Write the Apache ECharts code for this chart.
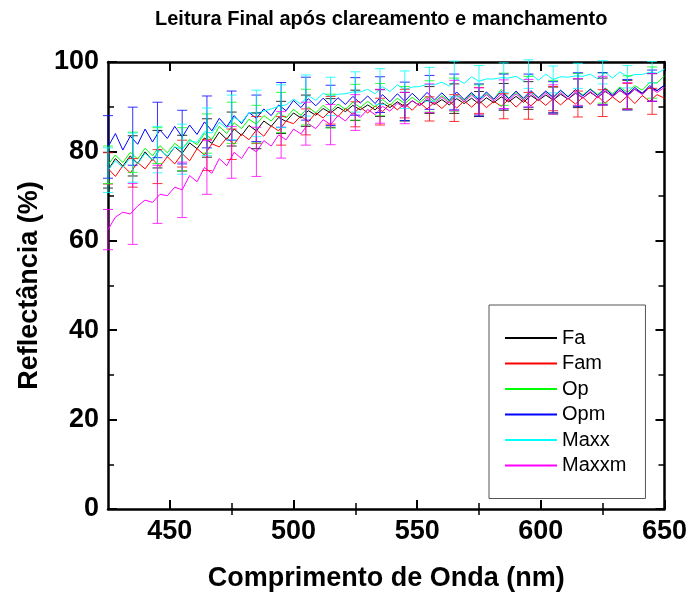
<!DOCTYPE html>
<html>
<head>
<meta charset="utf-8">
<title>Leitura Final após clareamento e manchamento</title>
<script src="https://cdn.jsdelivr.net/npm/echarts@6/dist/echarts.min.js"></script>
<style>
	html, body { margin: 0; padding: 0; background: #fff; }
	#main { width: 690px; height: 597px; }
</style>
</head>
<body>
<div id="main"></div>
<script>
var names = ['Fa', 'Fam', 'Op', 'Opm', 'Maxx', 'Maxxm'];
var colors = ['#000000', '#ff0000', '#00ff00', '#0000ff', '#00ffff', '#ff00ff'];

// espectros lidos a cada 3 nm, de 425 a 650 nm
var wlStart = 425, wlStep = 3;
var fa = [75.8, 78.4, 76.7, 79.0, 77.3, 79.9, 78.0, 80.5, 78.8, 81.0,
	79.6, 81.9, 80.6, 83.0, 81.8, 84.3, 82.7, 85.0, 83.6, 85.8,
	84.6, 86.8, 85.6, 87.6, 86.7, 88.6, 87.5, 89.1, 88.1, 89.6,
	88.6, 89.9, 88.9, 90.3, 89.3, 90.4, 89.3, 90.8, 89.8, 91.1,
	90.0, 91.3, 90.3, 91.5, 90.5, 91.6, 90.4, 91.8, 90.7, 91.9,
	90.6, 92.0, 90.9, 92.2, 91.1, 92.3, 91.0, 92.5, 91.4, 92.6,
	91.5, 92.8, 91.7, 93.0, 92.0, 93.2, 92.1, 93.4, 92.4, 93.6,
	92.6, 93.9, 93.0, 94.3, 93.6, 94.8];
var fam = [76.2, 74.4, 76.8, 75.2, 77.5, 76.1, 78.3, 76.6, 78.8, 77.2,
	79.5, 77.9, 80.6, 79.2, 81.7, 81.0, 83.0, 81.6, 83.9, 82.6,
	84.8, 83.4, 85.7, 84.6, 86.8, 86.2, 87.9, 86.6, 88.6, 87.5,
	89.2, 87.8, 89.6, 88.3, 89.9, 88.6, 90.2, 88.9, 90.6, 89.3,
	90.7, 89.2, 90.9, 89.5, 91.0, 89.6, 91.2, 89.7, 91.3, 89.9,
	91.4, 89.8, 91.2, 90.1, 91.6, 89.9, 91.5, 90.2, 91.7, 90.3,
	91.8, 90.4, 91.9, 90.6, 92.1, 90.5, 92.3, 90.8, 92.2, 90.9,
	92.4, 90.7, 92.5, 91.2, 92.7, 91.9];
var op = [77.0, 79.2, 77.5, 79.8, 78.3, 80.7, 79.0, 81.3, 79.7, 81.8,
	80.5, 82.7, 81.5, 84.0, 82.7, 85.6, 84.0, 86.4, 85.1, 87.2,
	86.1, 88.0, 86.8, 88.7, 87.5, 89.4, 88.1, 89.9, 88.6, 90.3,
	89.0, 90.6, 89.4, 91.0, 89.8, 91.2, 89.9, 91.6, 90.3, 91.9,
	90.7, 92.1, 90.9, 92.3, 91.1, 92.5, 91.2, 92.7, 91.4, 92.9,
	91.5, 93.0, 91.6, 93.9, 91.9, 93.2, 91.7, 93.3, 92.0, 93.4,
	92.1, 93.6, 92.3, 93.8, 92.6, 94.0, 92.7, 94.2, 92.9, 94.4,
	93.2, 94.7, 93.7, 95.4, 95.3, 96.9];
var opm = [81.0, 84.0, 80.3, 83.4, 81.6, 85.0, 82.1, 84.8, 82.9, 85.6,
	83.2, 85.9, 83.8, 86.6, 84.6, 87.4, 85.5, 88.0, 86.2, 88.7,
	87.4, 89.5, 88.0, 90.4, 89.1, 91.4, 89.8, 91.8, 90.2, 91.9,
	90.3, 92.0, 90.5, 92.3, 90.8, 92.4, 90.7, 92.7, 91.1, 92.9,
	91.2, 93.0, 91.4, 93.2, 91.5, 93.1, 91.4, 93.3, 91.6, 93.2,
	91.5, 93.3, 91.7, 93.4, 91.8, 93.5, 91.9, 93.6, 92.0, 93.5,
	92.1, 93.7, 92.2, 93.8, 92.4, 93.9, 92.5, 94.0, 92.6, 94.1,
	92.7, 94.3, 93.0, 94.7, 93.6, 94.8];
var maxx = [75.8, 77.9, 76.4, 78.6, 77.2, 79.6, 78.1, 80.4, 79.0, 81.0,
	80.5, 82.4, 82.0, 84.4, 84.1, 86.5, 85.2, 87.6, 86.5, 88.7,
	88.5, 89.0, 89.5, 90.1, 90.4, 91.7, 90.6, 92.5, 91.4, 93.0,
	92.3, 92.8, 92.9, 93.3, 93.3, 93.9, 92.9, 94.5, 93.4, 94.9,
	93.8, 94.4, 94.5, 95.0, 94.9, 95.5, 94.6, 96.2, 95.2, 96.7,
	95.7, 96.2, 96.2, 96.5, 96.4, 96.8, 95.8, 97.3, 95.9, 97.3,
	96.1, 96.7, 96.6, 96.9, 96.8, 97.3, 96.2, 97.7, 96.4, 97.8,
	96.7, 97.2, 97.2, 97.7, 97.5, 98.4];
var maxxm = [62.5, 65.3, 66.4, 66.0, 67.8, 69.1, 68.6, 70.4, 70.1, 72.0,
	71.4, 74.6, 73.2, 76.4, 75.1, 78.4, 76.8, 79.8, 78.4, 81.0,
	79.9, 82.4, 81.2, 83.7, 82.6, 85.0, 83.9, 86.2, 85.1, 87.1,
	86.0, 88.0, 86.8, 88.7, 87.6, 89.4, 88.2, 90.1, 89.0, 90.8,
	89.7, 91.4, 90.2, 91.9, 90.7, 92.2, 90.8, 92.5, 91.1, 92.6,
	91.2, 92.7, 91.3, 92.8, 91.4, 92.9, 91.4, 93.0, 91.5, 93.1,
	91.6, 93.2, 91.7, 93.3, 91.9, 93.4, 92.0, 93.6, 92.2, 93.7,
	92.4, 93.9, 92.7, 94.3, 93.2, 94.3];

// barras de erro (desvio) a cada 10 nm
var errWl = [425, 435, 445, 455, 465, 475, 485, 495, 505, 515, 525, 535, 545, 555, 565, 575, 585, 595, 605, 615, 625, 635, 645];
var errFa = [4.0, 4.5, 4.2, 4.0, 4.3, 3.8, 4.0, 3.6, 3.5, 3.2, 3.4, 3.0, 3.2, 3.0, 3.3, 2.8, 3.0, 3.1, 2.9, 3.2, 3.0, 3.3, 3.1];
var errFam = [3.5, 3.2, 3.8, 3.0, 3.5, 3.4, 3.0, 3.2, 2.9, 3.1, 2.8, 3.0, 3.2, 2.7, 3.0, 2.9, 2.8, 3.0, 2.7, 2.9, 3.0, 2.8, 2.9];
var errOp = [4.2, 4.5, 4.0, 4.8, 4.4, 4.6, 4.2, 4.5, 4.0, 3.8, 4.0, 3.6, 3.8, 3.5, 3.7, 3.4, 3.6, 3.5, 3.8, 3.6, 3.4, 3.7, 3.5];
var errOpm = [7.0, 6.5, 6.2, 6.0, 5.8, 5.5, 5.2, 5.0, 4.8, 4.5, 4.2, 4.0, 4.3, 3.8, 4.0, 3.6, 3.9, 3.7, 3.5, 3.8, 3.6, 3.4, 3.5];
var errMaxx = [5.0, 5.5, 5.2, 5.6, 5.3, 5.0, 5.2, 4.8, 4.6, 4.3, 4.5, 4.0, 4.2, 3.8, 4.0, 3.5, 3.3, 3.2, 3.0, 2.8, 2.6, 2.5, 2.4];
var errMaxxm = [4.5, 6.8, 6.5, 6.2, 6.0, 5.8, 5.5, 5.2, 4.8, 4.5, 4.0, 3.8, 3.5, 3.2, 3.4, 3.0, 3.2, 3.1, 3.3, 3.0, 3.2, 3.0, 3.1];

var xMajor = [450, 500, 550, 600, 650];
var xMinor = [475, 525, 575, 625];

var values = [fa, fam, op, opm, maxx, maxxm];
var errs = [errFa, errFam, errOp, errOpm, errMaxx, errMaxxm];
var font = 'Liberation Sans, Arial, sans-serif';

function makeErrorBar(color) {
	return function (params, api) {
		var x = api.value(0);
		var top = api.coord([x, api.value(2)]);
		var bot = api.coord([x, api.value(1)]);
		var st = { stroke: color, lineWidth: 1, opacity: 0.8 };
		return {
			type: 'group',
			children: [
				{ type: 'line', shape: { x1: top[0], y1: top[1], x2: bot[0], y2: bot[1] }, style: st },
				{ type: 'line', shape: { x1: top[0] - 5, y1: top[1], x2: top[0] + 5, y2: top[1] }, style: st },
				{ type: 'line', shape: { x1: bot[0] - 5, y1: bot[1], x2: bot[0] + 5, y2: bot[1] }, style: st }
			]
		};
	};
}

var series = [];
for (var s = 0; s < names.length; s++) {
	series.push({
		name: names[s],
		type: 'line',
		symbol: 'none',
		itemStyle: { color: colors[s] },
		lineStyle: { width: 1, color: colors[s] },
		data: values[s].map(function (v, i) { return [wlStart + i * wlStep, v]; }),
		z: 2
	});
}
for (var s = 0; s < names.length; s++) {
	(function (s) {
		series.push({
			type: 'custom',
			renderItem: makeErrorBar(colors[s]),
			encode: { x: 0, y: [1, 2] },
			data: errWl.map(function (w, k) {
				var c = values[s][Math.round((w - wlStart) / wlStep)];
				return [w, c - errs[s][k], c + errs[s][k]];
			}),
			z: 3,
			silent: true
		});
	})(s);
}

var frame = { show: true, onZero: false, lineStyle: { color: '#000', width: 2.5 } };
var majTick = { show: true, inside: true, length: 9, lineStyle: { color: '#000', width: 2 } };
var minTick = { show: true, inside: true, length: 6, lineStyle: { color: '#000', width: 1.5 } };
var tickLabel = { color: '#000', fontSize: 27, fontWeight: 'bold', fontFamily: font };

var chart = echarts.init(document.getElementById('main'));
chart.setOption({
	animation: false,
	backgroundColor: '#fff',
	title: {
		text: 'Leitura Final após clareamento e manchamento',
		left: 150,
		top: 4,
		textStyle: { color: '#000', fontSize: 20, fontWeight: 'bold', fontFamily: font }
	},
	legend: {
		data: names.map(function (n, i) { return { name: n, itemStyle: { color: colors[i] } }; }),
		orient: 'vertical',
		left: 489,
		top: 305,
		padding: [23, 19, 23, 16],
		borderColor: '#555',
		borderWidth: 1,
		icon: 'rect',
		itemWidth: 52,
		itemHeight: 2,
		itemGap: 5.5,
		textStyle: { color: '#000', fontSize: 20, lineHeight: 20, fontFamily: font }
	},
	grid: { left: 108, right: 24, top: 62, bottom: 84, containLabel: false },
	xAxis: [
		{
			type: 'value', min: 425, max: 650, position: 'bottom',
			axisLine: frame,
			axisTick: Object.assign({ customValues: xMajor }, majTick),
			axisLabel: Object.assign({ customValues: xMajor, margin: 9 }, tickLabel),
			splitLine: { show: false },
			name: 'Comprimento de Onda (nm)',
			nameLocation: 'middle',
			nameGap: 56,
			nameTextStyle: { color: '#000', fontSize: 27, fontWeight: 'bold', fontFamily: font }
		},
		{
			type: 'value', min: 425, max: 650, position: 'bottom', offset: 0,
			axisLine: { show: false },
			axisTick: Object.assign({ customValues: xMinor }, minTick),
			axisLabel: { show: false },
			splitLine: { show: false }
		},
		{
			type: 'value', min: 425, max: 650, position: 'top', offset: 0,
			axisLine: frame,
			axisTick: Object.assign({ customValues: xMajor }, majTick),
			axisLabel: { show: false },
			splitLine: { show: false }
		},
		{
			type: 'value', min: 425, max: 650, position: 'top', offset: 0,
			axisLine: { show: false },
			axisTick: Object.assign({ customValues: xMinor }, minTick),
			axisLabel: { show: false },
			splitLine: { show: false }
		}
	],
	yAxis: [
		{
			type: 'value', min: 0, max: 100, interval: 20, position: 'left',
			axisLine: frame,
			axisTick: majTick,
			minorTick: { show: true, splitNumber: 2, length: 6, lineStyle: { color: '#000', width: 1.5 } },
			axisLabel: Object.assign({ margin: 9 }, tickLabel),
			splitLine: { show: false },
			minorSplitLine: { show: false },
			name: 'Reflectância (%)',
			nameLocation: 'middle',
			nameGap: 61,
			nameRotate: 90,
			nameTextStyle: { color: '#000', fontSize: 27, fontWeight: 'bold', fontFamily: font }
		},
		{
			type: 'value', min: 0, max: 100, interval: 20, position: 'right', offset: 0,
			axisLine: frame,
			axisTick: majTick,
			minorTick: { show: true, splitNumber: 2, length: 6, lineStyle: { color: '#000', width: 1.5 } },
			axisLabel: { show: false },
			splitLine: { show: false },
			minorSplitLine: { show: false }
		}
	],
	series: series
});
</script>
</body>
</html>
